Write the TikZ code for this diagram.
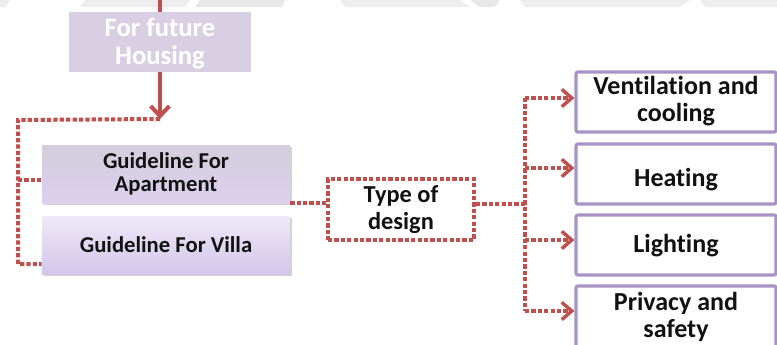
\documentclass[tikz,border=0pt]{standalone}
\usepackage{fontspec}
\setmainfont{Carlito}[Ligatures=NoCommon]
\usetikzlibrary{arrows.meta,shadows,calc}
\definecolor{dred}{HTML}{C0504D}
\definecolor{lav}{HTML}{D8CFE3}
\definecolor{pborder}{HTML}{A892C6}
\definecolor{txt}{HTML}{111111}
\definecolor{aptT}{HTML}{D3CEDC}
\definecolor{aptB}{HTML}{DCD0EE}
\definecolor{vilT}{HTML}{EEE9F7}
\definecolor{vilB}{HTML}{D4C5EA}
\begin{document}
\begin{tikzpicture}[x=0.75pt,y=-0.75pt,
  every node/.style={text=txt, align=center, inner sep=0pt},
  fbig/.style={font=\fontsize{19.5}{20.3}\selectfont\bfseries},
  fmid/.style={font=\fontsize{18.3}{20.3}\selectfont\bfseries},
  fsmall/.style={font=\fontsize{17}{17.5}\selectfont\bfseries},
  ftop/.style={font=\fontsize{20}{21}\selectfont\bfseries},
  dotline/.style={draw=dred, line width=3pt, dash pattern=on 3.2pt off 1.6pt},
  dotarrow/.style={dotline, -{Straight Barb[length=7.5pt,width=13pt,line width=2.6pt]}},
  guide/.style={minimum width=186pt, minimum height=43.5pt, drop shadow={opacity=0.35, shadow xshift=1.2pt, shadow yshift=-1.5pt}},
  target/.style={draw=pborder, line width=2.4pt, rounded corners=1.5pt, fill=white, minimum width=150pt, minimum height=45pt}
]
\useasboundingbox (0,0) rectangle (777,344);
% faint background band at top
\fill[gray!14] (0,0) -- (10,0) -- (6,7) -- (0,7) -- cycle;
\fill[gray!14] (85,0) -- (190,0) -- (185,7) -- (80,7) -- cycle;
\fill[gray!18] (200,0) -- (285,0) -- (282,7) -- (195,7) -- cycle;
\fill[gray!14] (340,0) -- (460,0) -- (470,7) -- (345,7) -- cycle;
\fill[gray!18] (470,0) -- (500,0) -- (495,7) -- (480,7) -- cycle;
\fill[gray!14] (520,0) -- (690,0) -- (680,7) -- (525,7) -- cycle;
\fill[gray!14] (700,0) -- (777,0) -- (777,7) -- (705,7) -- cycle;

% top box
\node[fill=lav, minimum width=136.5pt, minimum height=45pt] (future) at (160,42) {};
\node[ftop, text=white] (futuret) at (160,43) {For future\\Housing};
\coordinate (topin) at (160,0);
\draw[dred, line width=3pt] (topin) -- (future.north);
\coordinate (arrend) at (160,119);
\draw[dred, line width=3pt, -{Straight Barb[length=7.5pt,width=14pt,line width=3pt]}] (future.south) -- (arrend);

% guideline boxes
\node[guide, top color=aptT, bottom color=aptB] (apt) at (166,174) {};
\node[fsmall] (aptt) at (166,173.5) {Guideline For\\Apartment};
\node[guide, top color=vilT, bottom color=vilB] (villa) at (166,245) {};
\node[fsmall] (villat) at (166,245) {Guideline For Villa};

% left dotted bracket
\coordinate (lc) at (18,120);
\coordinate (lb) at (18,264);
\draw[dotline] (arrend) -- (lc) -- (lb) -- (villa.west |- lb);
\draw[dotline] (lc |- 0,180) -- (apt.west |- 0,180);

% type of design
\node[dotline, fill=white, minimum width=109.5pt, minimum height=45.5pt] (type) at (401,209.5) {};
\node[fmid] (typet) at (401,210) {Type of\\design};
\draw[dotline] (apt.south east) -- (type.west |- apt.south east);

% right boxes
\node[target] (b1) at (676,102) {};
\node[fbig] (b1t) at (676,101.5) {Ventilation and\\cooling};
\node[target] (b2) at (676,174) {};
\node[fbig] (b2t) at (676,180) {Heating};
\node[target] (b3) at (676,245) {};
\node[fbig] (b3t) at (676,246) {Lighting};
\node[target, minimum height=60pt] (b4) at (676,326) {};
\node[fbig] (b4t) at (676,316.5) {Privacy and\\safety};

\coordinate (hub) at (525,204);
\coordinate (vt) at (525,98);
\coordinate (vb) at (525,311);
\draw[dotline] (type.east |- hub) -- (hub);
\draw[dotline] (vt) -- (vb);
\draw[dotarrow] (vt) -- (b1.west |- vt);
\draw[dotarrow] (525,168) -- (b2.west |- 0,168);
\draw[dotarrow] (525,240) -- (b3.west |- 0,240);
\draw[dotarrow] (vb) -- (b4.west |- vb);
\end{tikzpicture}
\end{document}
